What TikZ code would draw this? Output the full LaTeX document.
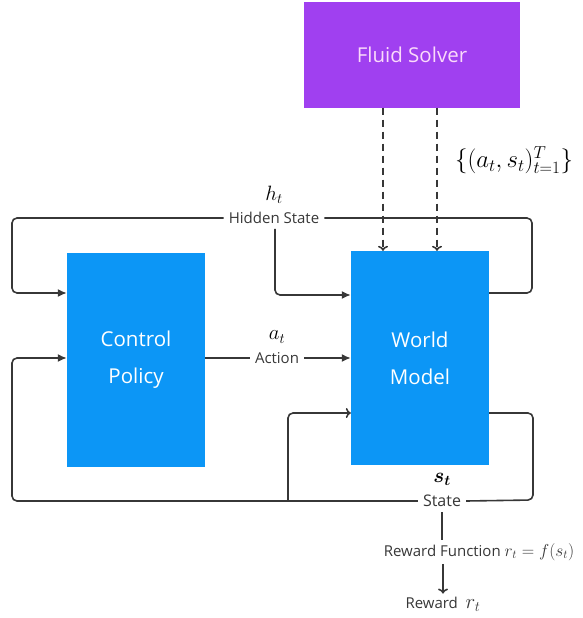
\documentclass[tikz,border=0pt]{standalone}
\usepackage{amsmath}
\usepackage{amssymb}
\usepackage{fontspec}
\setsansfont{Open Sans}
\usepackage{tikz}
\usetikzlibrary{arrows.meta}
\usetikzlibrary{calc,positioning}

\definecolor{boxblue}{RGB}{12,150,246}
\definecolor{solverpurple}{RGB}{160,64,240}
\definecolor{solvertext}{RGB}{250,218,250}
\definecolor{linegray}{RGB}{55,55,55}

\begin{document}
\begin{tikzpicture}[
    x=1pt, y=-1pt,
    block/.style={rectangle, fill=boxblue, minimum width=138pt, minimum height=214pt, inner sep=0pt, align=center, text=white, font=\sffamily\fontsize{20.5}{37}\selectfont},
    solver/.style={rectangle, fill=solverpurple, minimum width=216pt, minimum height=105pt, inner sep=0pt, text=solvertext, font=\sffamily\fontsize{20.5}{24}\selectfont},
    tag/.style={inner sep=5pt, text=linegray, font=\sffamily\fontsize{15}{17}\selectfont},
    sym/.style={inner sep=1pt, font=\fontsize{21}{25}\selectfont},
    wire/.style={line width=1.6pt, draw=linegray, rounded corners=5pt},
    fill arrow/.style={wire, -{Latex[length=9pt,width=8pt]}},
    open arrow/.style={wire, -{To[length=5pt,width=10pt,line width=1.6pt]}},
    dash wire/.style={line width=1.6pt, draw=linegray, dash pattern=on 7pt off 5pt, -{To[length=5pt,width=10pt,line width=1.6pt]}}
]
\useasboundingbox (0,0) rectangle (582,618);

% Nodes
\node[solver] (fluid) at (412,55) {Fluid Solver};
\node[block] (policy) at (136,360) {Control\\Policy};
\node[block] (world) at (420,358) {World\\Model};

% Labels on the wires
\node[tag] (hidden) at (274,218) {Hidden State};
\node[sym] (ht) at (274,195) {$h_t$};
\node[tag] (action) at (277,358) {Action};
\node[sym] (at) at (277,337) {$a_t$};
\node[tag, font=\sffamily\fontsize{16}{18}\selectfont] (state) at (442,501) {State};
\node[sym, font=\fontsize{22}{26}\selectfont] (st) at (442,479) {$\boldsymbol{s_t}$};
\node[tag, inner sep=3pt] (rewardfn) at (479,552) {Reward Function {\fontsize{17.5}{19}\selectfont$r_t=f(s_t)$}};
\node[tag, inner sep=3pt] (reward) at (443,604) {Reward \ \fontsize{22}{26}\selectfont$r_t$};
\node[sym, font=\fontsize{23}{27}\selectfont] (data) at (514,160) {$\{(a_t,s_t)_{t=1}^{T}\}$};

% Helper coordinates
\coordinate (dl) at (383,0);
\coordinate (dr) at (437,0);
\coordinate (hR) at (532,218);
\coordinate (hL) at (12,218);
\coordinate (sR) at (533,500);
\coordinate (sL) at (12,500);
\coordinate (sB) at (288,500);

% Data from the solver
\draw[dash wire] (fluid.south -| dl) -- (world.north -| dl);
\draw[dash wire] (fluid.south -| dr) -- (world.north -| dr);

% Hidden state loop
\draw[wire] ([yshift=65pt]world.east) -| (hR) -- (hidden.east);
\draw[fill arrow] (hidden.west) -| (hL |- 0,293) -- (policy.west |- 0,293);
\draw[fill arrow] ([xshift=1pt]hidden.south) |- ([yshift=63pt]world.west);

% Action
\draw[wire] (policy.east |- action) -- (action.west);
\draw[fill arrow] (action.east) -- (world.west);

% State loop
\draw[wire] ([yshift=-55pt]world.east) -| (sR) -- (state.east);
\draw[fill arrow] (state.west) -| (sL |- 0,358) -- (policy.west |- 0,358);
\draw[open arrow] (sB) |- ([yshift=-55pt]world.west);

% Reward
\draw[wire] (state.south) -- (rewardfn.north -| state.south);
\draw[open arrow] (rewardfn.south -| reward.north) -- (reward.north);

\end{tikzpicture}
\end{document}
